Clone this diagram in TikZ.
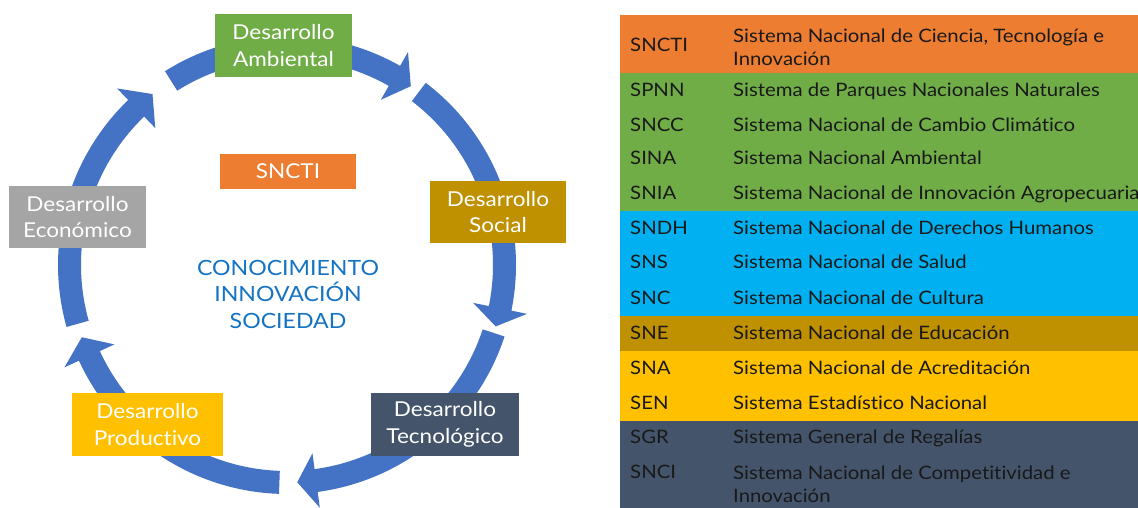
\documentclass[tikz,border=0pt]{standalone}
\usepackage{fontspec}
\setmainfont{Lato}[FakeStretch=1.1,Ligatures=NoCommon]
\usetikzlibrary{calc}
\definecolor{ringblue}{RGB}{68,114,196}
\definecolor{cgreen}{RGB}{112,173,71}
\definecolor{corange}{RGB}{237,125,49}
\definecolor{cbrown}{RGB}{191,144,0}
\definecolor{cgrey}{RGB}{165,165,165}
\definecolor{cyellow}{RGB}{255,192,0}
\definecolor{cslate}{RGB}{68,84,106}
\definecolor{cblue}{RGB}{0,176,240}
\definecolor{ctext}{RGB}{20,115,195}
\definecolor{tdark}{RGB}{25,25,25}
\begin{document}
\begin{tikzpicture}[x=1pt,y=1pt,
  devbox/.style={fill=#1, text=white, align=center, inner sep=0pt,
    font=\fontsize{20.5}{26.5}\selectfont},
  code/.style={anchor=base west, text=tdark, inner sep=0pt, font=\fontsize{18.5}{23}\selectfont},
  desc/.style={anchor=base west, text=tdark, inner sep=0pt, align=left, font=\fontsize{18.5}{23}\selectfont},
  desc2/.style={anchor=west, text=tdark, inner sep=0pt, align=left, font=\fontsize{18.5}{23}\selectfont},
  ringfill/.style={fill=ringblue}]
\useasboundingbox (0,0) rectangle (1138,508);
\fill[white] (0,0) rectangle (1138,508);
\coordinate (C) at (287,243);
% ring of arrows
\foreach \a/\h/\t in {122.2/60.4/55.3, 52.7/-11.5/-16.4, -18.2/-82.3/-87.3, 268/204.7/199.4, 195.7/133.9/128.2}{
  \fill[ringfill] ($(C)+(\a:229pt)$) arc[start angle=\a, end angle=\h, radius=229pt]
    -- ($(C)+(\h:245pt)$) -- ($(C)+(\t:217.5pt)$) -- ($(C)+(\h:190pt)$)
    -- ($(C)+(\h:206pt)$) arc[start angle=\h, end angle=\a, radius=206pt] -- cycle;
}
% boxes
\node[devbox=cgreen, minimum width=137pt, minimum height=63pt] (amb) at (283.5,462.5) {Desarrollo\\Ambiental};
\node[devbox=corange, minimum width=136pt, minimum height=35pt] (sncti) at (288,336.5) {SNCTI};
\node[devbox=cbrown, minimum width=136pt, minimum height=62pt] (soc) at (498,296) {Desarrollo\\Social};
\node[devbox=cgrey, minimum width=137pt, minimum height=62pt] (eco) at (77.5,291) {Desarrollo\\Económico};
\node[devbox=cyellow, minimum width=151pt, minimum height=63pt] (prod) at (147.5,83.5) {Desarrollo\\Productivo};
\node[devbox=cslate, minimum width=148pt, minimum height=63pt] (tec) at (445,83.5) {Desarrollo\\Tecnológico};
\node[text=ctext, align=center, inner sep=0pt, font=\fontsize{21}{26.5}\selectfont] (cis) at (288,214) {CONOCIMIENTO\\INNOVACIÓN\\SOCIEDAD};
% table bands
\fill[corange] (620,435) rectangle (1138,493);
\fill[cgreen] (620,297) rectangle (1138,435);
\fill[cblue] (620,192) rectangle (1138,297);
\fill[cbrown] (620,157) rectangle (1138,192);
\fill[cyellow] (620,87) rectangle (1138,157);
\fill[cslate] (620,0) rectangle (1138,87);
% table text
\node[code] (c1) at (630,508-45-6.5) {SNCTI};
\node[desc2] (d1) at (733,508-47) {Sistema Nacional de Ciencia, Tecnología e\\Innovación};
\node[code] (c2) at (630,508-90-6.5) {SPNN};
\node[desc] (d2) at (733,508-90-6.5) {Sistema de Parques Nacionales Naturales};
\node[code] (c3) at (630,508-125-6.5) {SNCC};
\node[desc] (d3) at (733,508-125-6.5) {Sistema Nacional de Cambio Climático};
\node[code] (c4) at (630,508-158-6.5) {SINA};
\node[desc] (d4) at (733,508-158-6.5) {Sistema Nacional Ambiental};
\node[code] (c5) at (630,508-193-6.5) {SNIA};
\node[desc] (d5) at (733,508-193-6.5) {Sistema Nacional de Innovación Agropecuaria};
\node[code] (c6) at (630,508-228-6.5) {SNDH};
\node[desc] (d6) at (733,508-228-6.5) {Sistema Nacional de Derechos Humanos};
\node[code] (c7) at (630,508-262-6.5) {SNS};
\node[desc] (d7) at (733,508-262-6.5) {Sistema Nacional de Salud};
\node[code] (c8) at (630,508-298-6.5) {SNC};
\node[desc] (d8) at (733,508-298-6.5) {Sistema Nacional de Cultura};
\node[code] (c9) at (630,508-333-6.5) {SNE};
\node[desc] (d9) at (733,508-333-6.5) {Sistema Nacional de Educación};
\node[code] (c10) at (630,508-368-6.5) {SNA};
\node[desc] (d10) at (733,508-368-6.5) {Sistema Nacional de Acreditación};
\node[code] (c11) at (630,508-403-6.5) {SEN};
\node[desc] (d11) at (733,508-403-6.5) {Sistema Estadístico Nacional};
\node[code] (c12) at (630,508-437-6.5) {SGR};
\node[desc] (d12) at (733,508-437-6.5) {Sistema General de Regalías};
\node[code] (c13) at (630,508-472-6.5) {SNCI};
\node[desc2] (d13) at (733,508-484) {Sistema Nacional de Competitividad e\\Innovación};
\end{tikzpicture}
\end{document}
